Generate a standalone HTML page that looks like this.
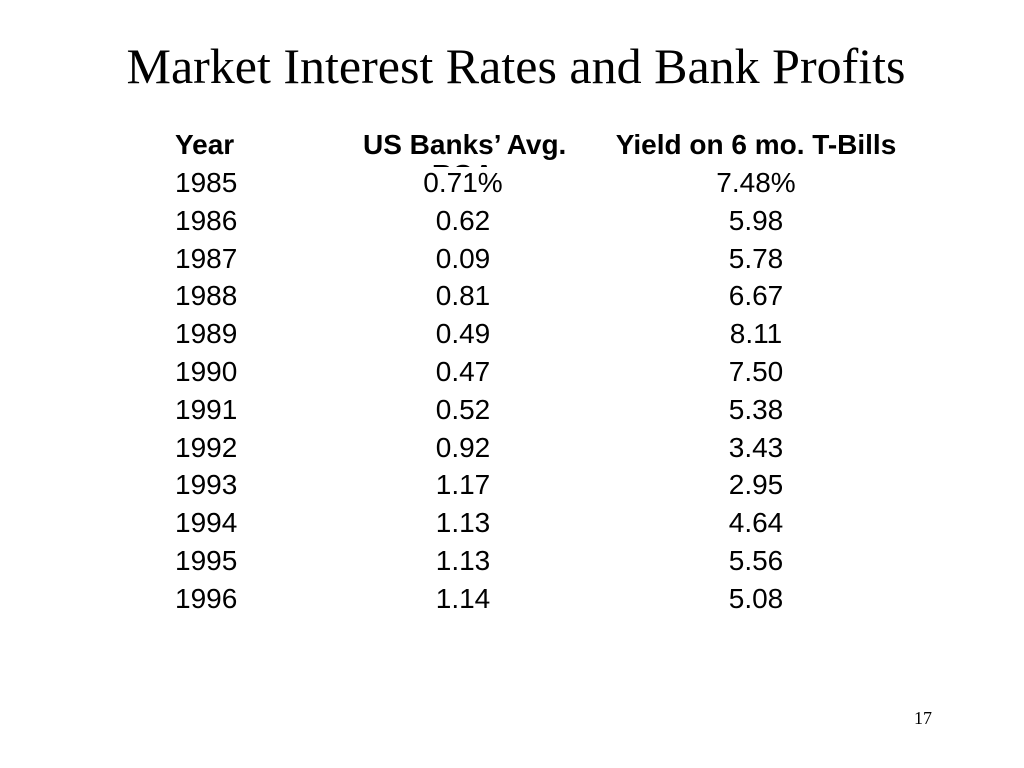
<!DOCTYPE html>
<html><head><meta charset="utf-8"><style>
body{margin:0;width:1024px;height:768px;background:#fff;position:relative;overflow:hidden;font-family:"Liberation Sans",Arial,sans-serif;color:#000}
.t{position:absolute;left:0;width:1024px;text-align:center;font-family:"Liberation Serif",serif;font-size:50px;top:36px;line-height:60px;padding-left:4px}
.row{position:absolute;left:0;width:1024px;height:38px;line-height:38px;font-size:28px}
.c{position:absolute;top:0;white-space:nowrap}
.c1{left:175px}
.c2{left:363px;width:200px;text-align:center}
.c3{left:606px;width:300px;text-align:center}
.h{font-weight:bold}
.pg{position:absolute;left:914px;top:708px;font-family:"Liberation Serif",serif;font-size:18px}
</style></head><body>
<div class="t">Market Interest Rates and Bank Profits</div>
<div style="position:absolute;left:363px;width:200px;top:164px;height:3px;overflow:hidden;text-align:center;font-weight:bold;font-size:28px"><div style="position:relative;top:-8px;line-height:38px">ROA</div></div>
<div class="row h" style="top:126px">
<span class="c c1">Year</span>
<span class="c c2">US Banks’ Avg.</span>
<span class="c c3">Yield on 6 mo. T-Bills</span>
</div>
<div id="rows"></div>
<div class="pg">17</div>
<script>
const years=["1985","1986","1987","1988","1989","1990","1991","1992","1993","1994","1995","1996"];
const roa=["0.71%","0.62","0.09","0.81","0.49","0.47","0.52","0.92","1.17","1.13","1.13","1.14"];
const tbill=["7.48%","5.98","5.78","6.67","8.11","7.50","5.38","3.43","2.95","4.64","5.56","5.08"];
const host=document.getElementById('rows');
years.forEach((y,i)=>{
  const r=document.createElement('div');
  r.className='row';
  r.style.top=(164+i*37.8)+'px';
  
  
  [[y,'c1'],[roa[i],'c2'],[tbill[i],'c3']].forEach(([v,c])=>{
    const s=document.createElement('span');
    s.className='c '+c;
    s.textContent=v;
    
    
    r.appendChild(s);
  });
  host.appendChild(r);
});
</script>
</body></html>
